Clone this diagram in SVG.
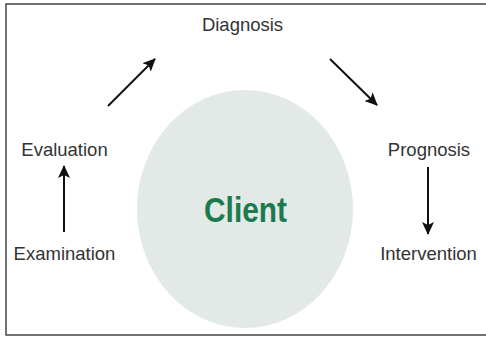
<svg xmlns="http://www.w3.org/2000/svg" width="486" height="338" viewBox="0 0 486 338">
<defs>
<style>
.lbl{font-family:"Liberation Sans",Arial,sans-serif;font-size:18.5px;fill:#333;text-anchor:middle}
.con{stroke:#111;stroke-width:2;fill:none;marker-end:url(#ah)}
</style>
<marker id="ah" markerWidth="14" markerHeight="12" refX="12" refY="6" orient="auto" markerUnits="userSpaceOnUse">
<path d="M0,0 L13,6 L0,12 L3,6 Z" fill="#111"/>
</marker>
</defs>
<rect x="6" y="4" width="484" height="331" fill="#fff" stroke="#444" stroke-width="1.5"/>
<g id="client">
<ellipse cx="245" cy="209" rx="108" ry="119" fill="#e3e9e6"/>
<text x="245.5" y="222" font-family="'Liberation Sans',Arial,sans-serif" font-weight="bold" font-size="35" fill="#1b7a4e" text-anchor="middle" textLength="83" lengthAdjust="spacingAndGlyphs">Client</text>
</g>
<g id="diagnosis"><text class="lbl" x="242.5" y="31">Diagnosis</text></g>
<g id="evaluation"><text class="lbl" x="64.5" y="156">Evaluation</text></g>
<g id="prognosis"><text class="lbl" x="429" y="156">Prognosis</text></g>
<g id="examination"><text class="lbl" x="64.5" y="260">Examination</text></g>
<g id="intervention"><text class="lbl" x="428.5" y="260">Intervention</text></g>
<g id="connectors">
<line class="con" x1="64" y1="232" x2="64" y2="166"/>
<line class="con" x1="108" y1="106" x2="155" y2="59"/>
<line class="con" x1="330" y1="59" x2="377" y2="105"/>
<line class="con" x1="428" y1="167" x2="428" y2="234"/>
</g>
</svg>
